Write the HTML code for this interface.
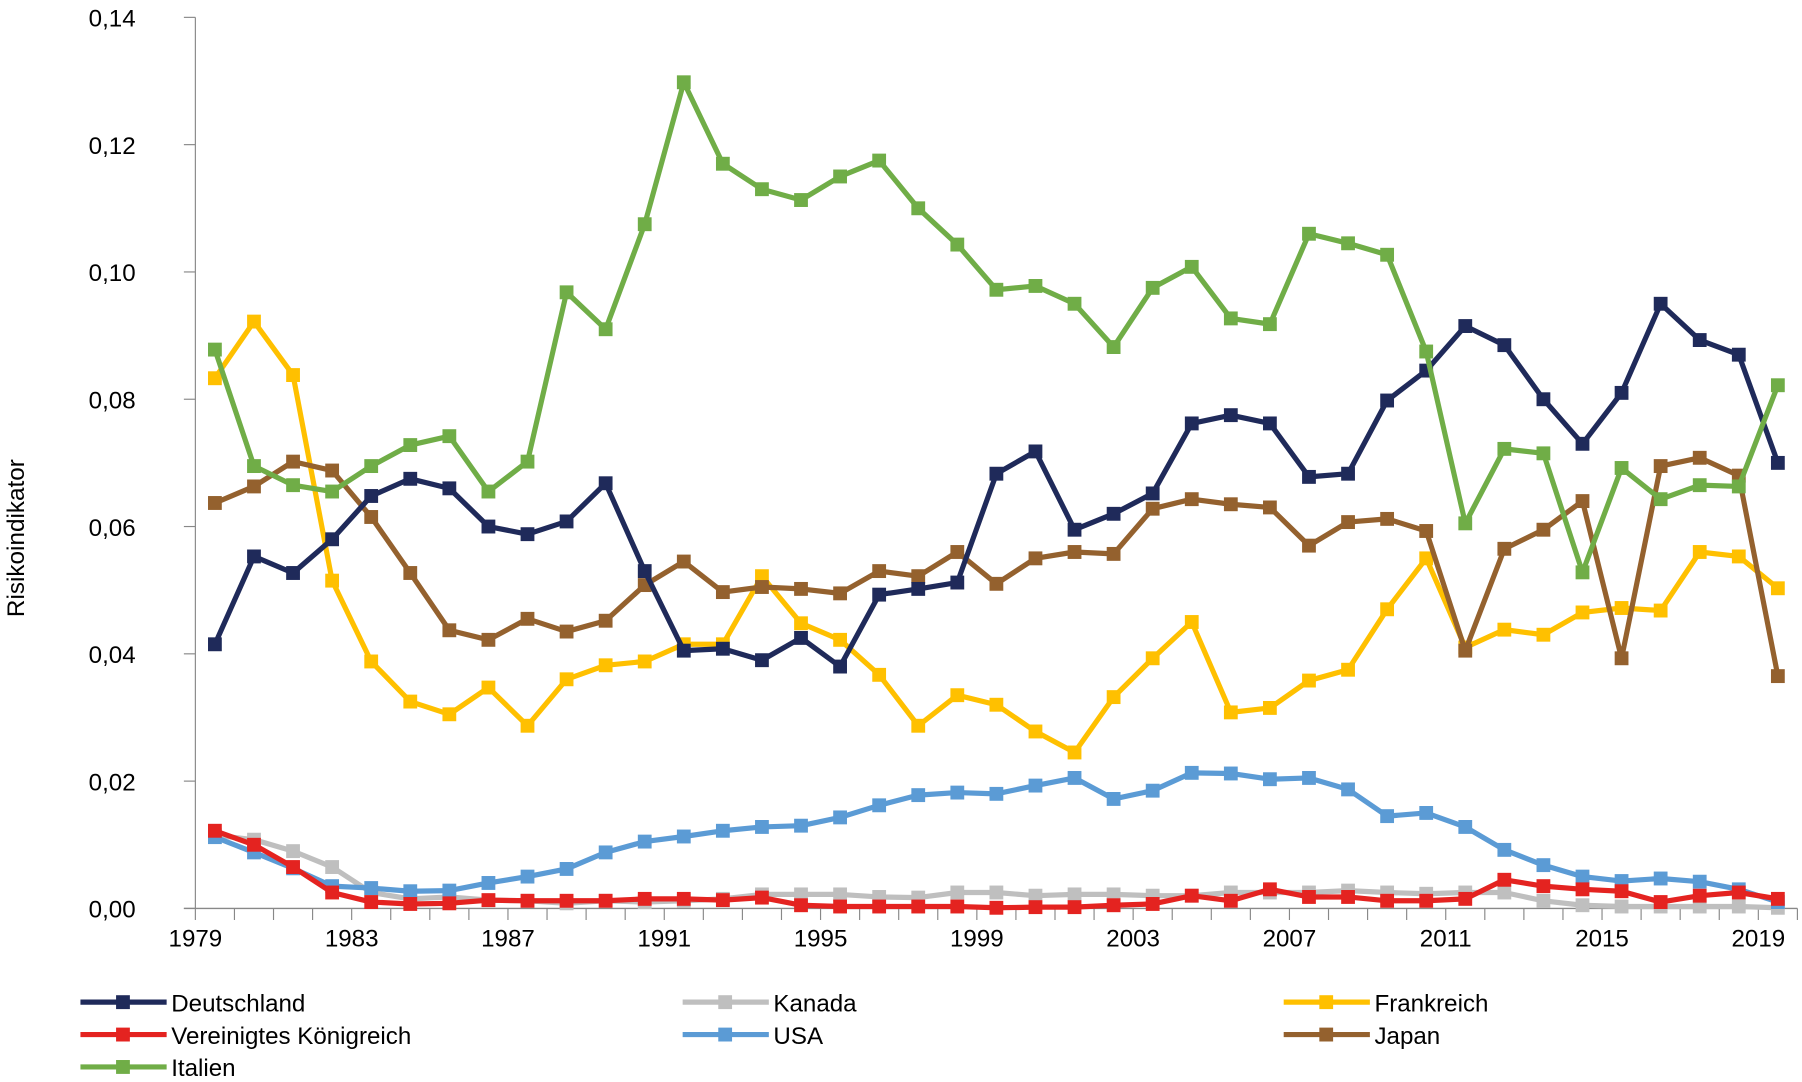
<!DOCTYPE html>
<html><head><meta charset="utf-8"><style>
html,body{margin:0;padding:0;background:#fff;}
svg{display:block;font-family:"Liberation Sans",sans-serif;}
</style></head><body>
<svg id="chart" width="1802" height="1082" viewBox="0 0 1568 935" preserveAspectRatio="none" xmlns="http://www.w3.org/2000/svg">
<g id="axes"></g>
<g id="series"></g>
<g id="legend"></g>
<text transform="translate(21,465) rotate(-90)" text-anchor="middle" font-size="21" fill="#000">Risikoindikator</text>
</svg>
<script>
const years = [];
for (let y = 1979; y <= 2019; y++) years.push(y);
const yTicks = [0, 0.02, 0.04, 0.06, 0.08, 0.10, 0.12, 0.14];
const xTickLabels = [1979,1983,1987,1991,1995,1999,2003,2007,2011,2015,2019];
const deutschland = [.0415,.0553,.0527,.058,.0648,.0675,.066,.060,.0588,.0608,.0668,.053,.0405,.0408,.039,.0425,.038,.0493,.0502,.0512,.0683,.0718,.0595,.062,.0652,.0762,.0775,.0762,.0678,.0683,.0798,.0845,.0915,.0885,.080,.073,.081,.095,.0893,.087,.070];
const italien = [.0878,.0695,.0665,.0655,.0695,.0728,.0742,.0655,.0702,.0968,.091,.1075,.1298,.117,.113,.1113,.115,.1175,.110,.1043,.0972,.0978,.0950,.0882,.0975,.1008,.0927,.0918,.1060,.1045,.1027,.0875,.0605,.0722,.0715,.0528,.0692,.0643,.0665,.0663,.0822];
const frankreich = [.0833,.0922,.0838,.0515,.0388,.0325,.0305,.0347,.0287,.0360,.0382,.0388,.0415,.0415,.0522,.0448,.0422,.0367,.0287,.0335,.0320,.0278,.0245,.0332,.0393,.0450,.0308,.0315,.0358,.0375,.0470,.0550,.0410,.0438,.0430,.0465,.0472,.0468,.0560,.0553,.0503];
const japan = [.0637,.0663,.0702,.0688,.0615,.0527,.0437,.0422,.0455,.0435,.0452,.0508,.0545,.0497,.0505,.0502,.0495,.0530,.0522,.0560,.0510,.0550,.0560,.0557,.0628,.0643,.0635,.0630,.0570,.0607,.0612,.0593,.0405,.0565,.0595,.0640,.0393,.0695,.0708,.0680,.0365];
const usa = [.0112,.0088,.0063,.0035,.0032,.0027,.0028,.0040,.0050,.0062,.0088,.0105,.0113,.0122,.0128,.0130,.0143,.0162,.0178,.0182,.0180,.0193,.0205,.0172,.0185,.0213,.0212,.0203,.0205,.0187,.0145,.0150,.0128,.0092,.0068,.0050,.0043,.0047,.0042,.0030,.0010];
const uk = [.0122,.0100,.0065,.0025,.0010,.0007,.0008,.0013,.0012,.0012,.0012,.0015,.0015,.0013,.0017,.0005,.0003,.0003,.0003,.0003,.0001,.0002,.0002,.0005,.0007,.0020,.0012,.0030,.0018,.0018,.0012,.0012,.0015,.0045,.0035,.0030,.0027,.0010,.0020,.0025,.0015];
const kanada = [.0115,.0108,.0090,.0065,.0025,.0015,.0018,.0013,.0012,.0008,.0012,.0010,.0012,.0015,.0022,.0022,.0022,.0018,.0017,.0025,.0025,.0020,.0022,.0022,.0020,.0020,.0025,.0025,.0025,.0028,.0025,.0023,.0025,.0025,.0012,.0005,.0003,.0003,.0003,.0003,.0001];

const NS = "http://www.w3.org/2000/svg";
const X0 = 170, STEP = 34, Y0 = 785, YTOP = 15;
function xScale(i){ return X0 + STEP/2 + i*STEP; }
function yScale(v){ return Y0 - (v/0.14)*(Y0-YTOP); }
function mk(tag, attrs, parent){ const e=document.createElementNS(NS,tag); for(const k in attrs) e.setAttribute(k,attrs[k]); parent.appendChild(e); return e; }

const axes = document.getElementById('axes');
let yl = mk('line',{x1:X0,y1:YTOP,x2:X0,y2:Y0,stroke:'#888','stroke-width':1},axes);


let xl = mk('line',{x1:X0-10,y1:Y0,x2:X0+STEP*years.length,y2:Y0,stroke:'#888','stroke-width':1.2},axes);


yTicks.forEach(v=>{
  const y=yScale(v);
  let t = mk('line',{x1:X0-10,y1:y,x2:X0,y2:y,stroke:'#888','stroke-width':1},axes);
  
  
  let tx = mk('text',{x:118,y:y+8,'text-anchor':'end','font-size':21,fill:'#000'},axes);
  tx.textContent = v.toFixed(2).replace('.',',');
  
  
});
for(let i=0;i<=years.length;i++){
  const x=X0+i*STEP;
  let t = mk('line',{x1:x,y1:Y0,x2:x,y2:Y0+10,stroke:'#888','stroke-width':1},axes);
  
  
}
xTickLabels.forEach(yr=>{
  const i=years.indexOf(yr);
  let tx = mk('text',{x:X0+i*STEP,y:805+13,'text-anchor':'middle','font-size':21,fill:'#000'},axes);
  tx.textContent = yr;
  
  
});

const seriesList = [
  {name:'Kanada',data:kanada,color:'#bfbfbf',key:'kanada'},
  {name:'USA',data:usa,color:'#5b9bd5',key:'usa'},
  {name:'Vereinigtes Königreich',data:uk,color:'#e42320',key:'uk'},
  {name:'Frankreich',data:frankreich,color:'#ffc000',key:'frankreich'},
  {name:'Japan',data:japan,color:'#94612e',key:'japan'},
  {name:'Deutschland',data:deutschland,color:'#1f2a5a',key:'deutschland'},
  {name:'Italien',data:italien,color:'#70ad47',key:'italien'}
];
const sg = document.getElementById('series');
seriesList.forEach(s=>{
  const g = mk('g',{},sg);
  
  
  const pts = s.data.map((v,i)=>xScale(i)+','+yScale(v)).join(' ');
  const pl = mk('polyline',{points:pts,fill:'none',stroke:s.color,'stroke-width':4.5,'stroke-linejoin':'round'},g);
  
  
  s.data.forEach((v,i)=>{
    const r = mk('rect',{x:xScale(i)-6,y:yScale(v)-6,width:12,height:12,fill:s.color},g);
    
    
  });
});

const legendItems = [
  {name:'Deutschland',color:'#1f2a5a',x:70,y:866},
  {name:'Kanada',color:'#bfbfbf',x:594,y:866},
  {name:'Frankreich',color:'#ffc000',x:1117,y:866},
  {name:'Vereinigtes Königreich',color:'#e42320',x:70,y:894},
  {name:'USA',color:'#5b9bd5',x:594,y:894},
  {name:'Japan',color:'#94612e',x:1117,y:894},
  {name:'Italien',color:'#70ad47',x:70,y:922}
];
const lg = document.getElementById('legend');
legendItems.forEach(it=>{
  const g = mk('g',{},lg);
  
  
  mk('line',{x1:it.x,y1:it.y,x2:it.x+75,y2:it.y,stroke:it.color,'stroke-width':4.5},g);
  mk('rect',{x:it.x+31,y:it.y-6,width:12,height:12,fill:it.color},g);
  const t = mk('text',{x:it.x+79,y:it.y+8,'font-size':21,fill:'#000'},g);
  t.textContent = it.name;
});
</script>
</body></html>
